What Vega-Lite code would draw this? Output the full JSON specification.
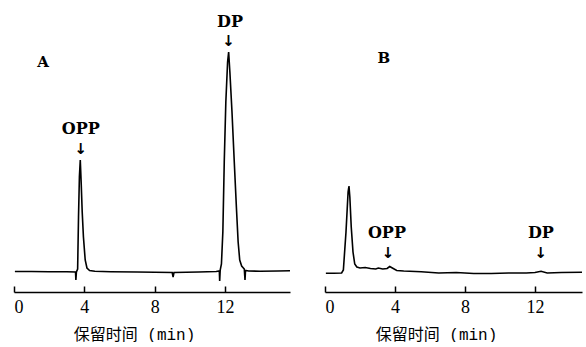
{
  "$schema": "https://vega.github.io/schema/vega-lite/v6.json",
  "padding": {"left": 11, "top": 0, "right": 0, "bottom": 0},
  "spacing": 28,
  "background": "white",
  "config": {
    "view": {"stroke": null},
    "axis": {
      "grid": false,
      "domainColor": "black",
      "domainWidth": 1.6,
      "tickColor": "black",
      "tickWidth": 1.5,
      "tickSize": -6,
      "labelPadding": 12,
      "labelFont": "Liberation Serif",
      "labelFontSize": 18,
      "labelColor": "black",
      "titleFont": "Liberation Mono, Noto Sans CJK SC",
      "titleFontSize": 16,
      "titleFontWeight": "normal",
      "titleColor": "black",
      "titlePadding": 10
    }
  },
  "datasets": {
    "seriesA": [
      {"t": 0.05, "v": 0.5}, {"t": 1.0, "v": 0.5}, {"t": 2.0, "v": 0.3}, {"t": 3.0, "v": 0.2},
      {"t": 3.5, "v": 0}, {"t": 3.52, "v": -8}, {"t": 3.55, "v": 0}, {"t": 3.62, "v": 3},
      {"t": 3.67, "v": 55}, {"t": 3.72, "v": 95}, {"t": 3.77, "v": 112}, {"t": 3.82, "v": 90},
      {"t": 3.88, "v": 60}, {"t": 3.95, "v": 35}, {"t": 4.05, "v": 12}, {"t": 4.15, "v": 4},
      {"t": 4.3, "v": 1.5}, {"t": 4.6, "v": 0.8}, {"t": 5.5, "v": 0.3}, {"t": 7.0, "v": 0},
      {"t": 9.0, "v": -0.5}, {"t": 9.05, "v": -5}, {"t": 9.1, "v": -0.5}, {"t": 10.5, "v": 0},
      {"t": 11.5, "v": 0.5}, {"t": 11.68, "v": 1}, {"t": 11.7, "v": -9}, {"t": 11.73, "v": 2},
      {"t": 11.8, "v": 8}, {"t": 11.88, "v": 40}, {"t": 11.96, "v": 110}, {"t": 12.05, "v": 170},
      {"t": 12.15, "v": 210}, {"t": 12.21, "v": 220}, {"t": 12.28, "v": 200}, {"t": 12.4, "v": 160},
      {"t": 12.53, "v": 110}, {"t": 12.65, "v": 65}, {"t": 12.75, "v": 30}, {"t": 12.84, "v": 12},
      {"t": 12.95, "v": 6}, {"t": 13.1, "v": 3}, {"t": 13.14, "v": -8}, {"t": 13.17, "v": 1.5},
      {"t": 13.35, "v": 1}, {"t": 14.0, "v": 0.8}, {"t": 15.0, "v": 1}, {"t": 15.7, "v": 1.2}
    ],
    "seriesB": [
      {"t": 0.05, "v": -1.3}, {"t": 0.5, "v": -1.3}, {"t": 0.95, "v": -1}, {"t": 1.05, "v": 2},
      {"t": 1.2, "v": 40}, {"t": 1.32, "v": 80}, {"t": 1.37, "v": 86}, {"t": 1.42, "v": 75},
      {"t": 1.5, "v": 45}, {"t": 1.6, "v": 20}, {"t": 1.7, "v": 8}, {"t": 1.82, "v": 5},
      {"t": 2.0, "v": 4}, {"t": 2.3, "v": 4.5}, {"t": 2.6, "v": 3.5}, {"t": 2.9, "v": 3},
      {"t": 3.05, "v": 4}, {"t": 3.3, "v": 3}, {"t": 3.55, "v": 3.5}, {"t": 3.7, "v": 5.5},
      {"t": 3.85, "v": 4}, {"t": 4.1, "v": 1.5}, {"t": 4.5, "v": 1}, {"t": 5.5, "v": 0.3},
      {"t": 6.5, "v": -1}, {"t": 7.5, "v": -0.5}, {"t": 8.5, "v": -1.5}, {"t": 9.5, "v": -1.5},
      {"t": 10.5, "v": -1}, {"t": 11.5, "v": -1}, {"t": 12.0, "v": -0.5}, {"t": 12.35, "v": 0.7},
      {"t": 12.7, "v": -1}, {"t": 13.5, "v": -0.5}, {"t": 14.69, "v": -0.3}
    ],
    "notesA": [
      {"kind": "panel", "text": "A", "t": 1.65, "v": 210},
      {"kind": "peak", "text": "OPP", "t": 3.8, "v": 143},
      {"kind": "arrow", "text": "↓", "t": 3.8, "v": 123},
      {"kind": "peak", "text": "DP", "t": 12.29, "v": 250},
      {"kind": "arrow", "text": "↓", "t": 12.21, "v": 231}
    ],
    "notesB": [
      {"kind": "panel", "text": "B", "t": 3.37, "v": 214},
      {"kind": "peak", "text": "OPP", "t": 3.54, "v": 39},
      {"kind": "arrow", "text": "↓", "t": 3.6, "v": 19},
      {"kind": "peak", "text": "DP", "t": 12.34, "v": 39},
      {"kind": "arrow", "text": "↓", "t": 12.34, "v": 19}
    ]
  },
  "hconcat": [
    {
      "width": 276,
      "height": 292,
      "encoding": {
        "x": {"field": "t", "type": "quantitative",
              "scale": {"domain": [0, 15.7], "nice": false, "zero": false},
              "axis": {"values": [0, 4, 8, 12], "title": "保留时间 (min)", "titleX": 120}},
        "y": {"field": "v", "type": "quantitative",
              "scale": {"domain": [-20, 272], "nice": false, "zero": false}, "axis": null}
      },
      "layer": [
        {"data": {"name": "seriesA"}, "mark": {"type": "line", "color": "black", "strokeWidth": 1.6, "clip": false}},
        {"data": {"name": "notesA"}, "transform": [{"filter": "datum.kind === 'panel'"}],
         "mark": {"type": "text", "font": "DejaVu Serif", "fontWeight": "bold", "fontSize": 15, "baseline": "middle", "align": "center", "color": "black"},
         "encoding": {"text": {"field": "text"}}},
        {"data": {"name": "notesA"}, "transform": [{"filter": "datum.kind === 'peak'"}],
         "mark": {"type": "text", "font": "DejaVu Serif", "fontWeight": "bold", "fontSize": 16, "baseline": "middle", "align": "center", "color": "black"},
         "encoding": {"text": {"field": "text"}}},
        {"data": {"name": "notesA"}, "transform": [{"filter": "datum.kind === 'arrow'"}],
         "mark": {"type": "text", "font": "DejaVu Sans", "fontWeight": "bold", "fontSize": 15, "baseline": "middle", "align": "center", "color": "black"},
         "encoding": {"text": {"field": "text"}}}
      ]
    },
    {
      "width": 257,
      "height": 292,
      "encoding": {
        "x": {"field": "t", "type": "quantitative",
              "scale": {"domain": [0, 14.69], "nice": false, "zero": false},
              "axis": {"values": [0, 4, 8, 12], "title": "保留时间 (min)", "titleX": 111}},
        "y": {"field": "v", "type": "quantitative",
              "scale": {"domain": [-20, 272], "nice": false, "zero": false}, "axis": null}
      },
      "layer": [
        {"data": {"name": "seriesB"}, "mark": {"type": "line", "color": "black", "strokeWidth": 1.6, "clip": false}},
        {"data": {"name": "notesB"}, "transform": [{"filter": "datum.kind === 'panel'"}],
         "mark": {"type": "text", "font": "DejaVu Serif", "fontWeight": "bold", "fontSize": 15, "baseline": "middle", "align": "center", "color": "black"},
         "encoding": {"text": {"field": "text"}}},
        {"data": {"name": "notesB"}, "transform": [{"filter": "datum.kind === 'peak'"}],
         "mark": {"type": "text", "font": "DejaVu Serif", "fontWeight": "bold", "fontSize": 16, "baseline": "middle", "align": "center", "color": "black"},
         "encoding": {"text": {"field": "text"}}},
        {"data": {"name": "notesB"}, "transform": [{"filter": "datum.kind === 'arrow'"}],
         "mark": {"type": "text", "font": "DejaVu Sans", "fontWeight": "bold", "fontSize": 15, "baseline": "middle", "align": "center", "color": "black"},
         "encoding": {"text": {"field": "text"}}}
      ]
    }
  ]
}
